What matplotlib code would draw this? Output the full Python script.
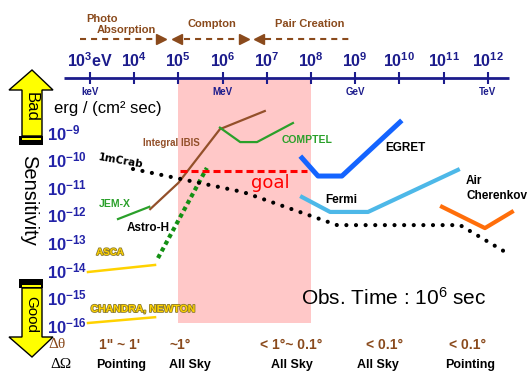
import matplotlib
matplotlib.use('Agg')
import matplotlib.pyplot as plt
from matplotlib.patches import Polygon, Rectangle
import matplotlib.patheffects as pe

plt.rcParams['font.family'] = ['Liberation Sans', 'DejaVu Sans']

# decades on the energy axis (eV) and on the sensitivity axis (erg / cm^2 / s)
energy_exp = [3, 4, 5, 6, 7, 8, 9, 10, 11, 12]
energy_units = {3: 'keV', 6: 'MeV', 9: 'GeV', 12: 'TeV'}
flux_exp = [-9, -10, -11, -12, -13, -14, -15, -16]

# sensitivity curves: energy (eV) / sensitivity (erg cm^-2 s^-1)
ibis_e = [2.3e4, 1.0e5, 8.7e5, 9.0e6]
ibis_s = [1.9e-12, 1.7e-11, 1.5e-9, 6.8e-9]

comptel_e = [8.7e5, 2.5e6, 6.0e6, 3.9e7]
comptel_s = [1.7e-9, 5.1e-10, 5.1e-10, 2.5e-9]

egret_e = [6.25e7, 1.44e8, 5.0e8, 1.03e10]
egret_s = [1.35e-10, 3.0e-11, 3.0e-11, 2.7e-9]

fermi_e = [6.25e7, 2.7e8, 1.95e9, 2.1e11]
fermi_s = [5.2e-12, 1.5e-12, 1.5e-12, 5.0e-11]

cherenkov_e = [9.2e10, 8.6e11, 3.5e12]
cherenkov_s = [2.3e-12, 3.9e-13, 1.5e-12]

crab_e = [9.4e3, 2.9e6, 3.9e8, 2.35e11, 2.7e12]
crab_s = [5.4e-11, 7.9e-12, 5.0e-13, 5.0e-13, 4.9e-14]

jemx_e = [4.3e3, 2.2e4]
jemx_s = [8.3e-13, 2.3e-12]

astroh_e = [3.45e4, 4.4e5]
astroh_s = [3.2e-14, 5.9e-11]

asca_e = [9.0e2, 2.96e4]
asca_s = [1.0e-14, 1.8e-14]

chandra_e = [9.0e2, 2.96e4]
chandra_s = [1.42e-16, 2.3e-16]

goal_e = [1.09e5, 8.1e7]
goal_s = [4.6e-11, 4.6e-11]

# wide-field band
band_e = [1e5, 1e8]

# angular resolution / field of view rows
res_labels = ['1" ~ 1\'', '~1°', '< 1°~ 0.1°', '< 0.1°', '< 0.1°']
res_x = [120, 180, 291, 385, 468]
fov_labels = ['Pointing', 'All Sky', 'All Sky', 'All Sky', 'Pointing']
fov_x = [121, 190, 292, 378, 470]

navy = '#1c1c8c'
ylab_blue = '#2323a8'
brown = '#8a4a1c'

W, H = 531, 372


def pos(x, y):
    # pixel position -> axes fraction (axes fill the figure)
    return x / W, 1 - y / H


fig = plt.figure(figsize=(W / 100, H / 100), dpi=100)
ax = fig.add_axes([0, 0, 1, 1])
ax.set_xscale('log')
ax.set_yscale('log')
ax.set_xlim(10 ** 0.9638, 10 ** 12.977)
ax.set_ylim(10 ** -17.623, 10 ** -4.145)
ax.axis('off')

xt = ax.get_xaxis_transform()
yt = ax.get_yaxis_transform()

# shaded band
ax.axvspan(band_e[0], band_e[1], ymin=pos(0, 323)[1], ymax=pos(0, 78)[1],
           color='#ffc8c8', lw=0, zorder=0)

# energy axis along the top
ax.plot([pos(64, 0)[0], pos(509, 0)[0]], [pos(0, 78)[1]] * 2,
        color=navy, lw=2, transform=ax.transAxes, solid_capstyle='butt')
ax.vlines([10.0 ** k for k in energy_exp], pos(0, 84)[1], pos(0, 72)[1],
          transform=xt, color=navy, lw=1.5)
for k in energy_exp:
    label = r'$\mathregular{10^{%d}}$' % k
    if k == 3:
        label += 'eV'
    ax.text(10.0 ** k, pos(0, 61)[1], label, transform=xt, ha='center',
            va='center', fontsize=11.5, fontweight='bold', color=navy)
    if k in energy_units:
        ax.text(10.0 ** k, pos(0, 92)[1], energy_units[k], transform=xt,
                ha='center', va='center', fontsize=7, fontweight='bold',
                color=navy)

# interaction regimes
proc = dict(transform=ax.transAxes, ha='center', va='center', fontsize=8,
            fontweight='bold', color=brown)
ax.text(*pos(102, 19), 'Photo', **proc)
ax.text(*pos(126, 30), 'Absorption', **proc)
ax.text(*pos(212, 24), 'Compton', **proc)
ax.text(*pos(310, 24), 'Pair Creation', **proc)
dash = dict(color=brown, lw=1.5, linestyle=(0, (2.9, 2.4)),
            transform=ax.transAxes)
arrow_y = pos(0, 39)[1]
for x0, x1 in [(80, 157), (184, 238), (265, 353)]:
    ax.plot([pos(x0, 0)[0], pos(x1, 0)[0]], [arrow_y] * 2, **dash)
for x, m in [(161, '>'), (177, '<'), (244, '>'), (259, '<')]:
    ax.plot(pos(x, 0)[0], arrow_y, marker=m, ms=7, color=brown, mec=brown,
            transform=ax.transAxes)

# sensitivity labels on the left
for k in flux_exp:
    ax.annotate(r'$\mathregular{10^{%d}}$' % k, xy=(pos(47, 0)[0], 10.0 ** k),
                xycoords=yt, xytext=(0, -4.3), textcoords='offset points',
                ha='left', va='baseline', fontsize=12, fontweight='bold',
                color=ylab_blue)
ax.text(*pos(108, 109), 'erg / (cm² sec)', transform=ax.transAxes,
        ha='center', va='center', fontsize=12, color='black')
ax.text(*pos(29, 200), 'Sensitivity', transform=ax.transAxes, rotation=-90,
        ha='center', va='center', fontsize=14.5, color='black')

# Bad / Good arrows
bad = [(32, 70), (53, 90), (42, 90), (42, 136), (22, 136), (22, 90), (9, 90)]
good = [(22, 288), (42, 288), (42, 337), (53, 337), (32, 357), (9, 337),
        (22, 337)]
for verts in (bad, good):
    ax.add_patch(Polygon([pos(x, y) for x, y in verts], closed=True,
                         transform=ax.transAxes, fc='#ffff00', ec='black',
                         lw=1, clip_on=False))
for y0, y1, s0, s1 in [(136, 145, 137.5, 140), (279, 288, 285, 287)]:
    x0, yb = pos(19, y1)
    ax.add_patch(Rectangle((x0, yb), 24 / W, (y1 - y0) / H,
                           transform=ax.transAxes, fc='black', ec='none'))
    x0, yb = pos(22, s1)
    ax.add_patch(Rectangle((x0, yb), 19 / W, (s1 - s0) / H,
                           transform=ax.transAxes, fc='#ffff00', ec='none'))
ax.text(*pos(31, 107), 'Bad', transform=ax.transAxes, rotation=-90,
        ha='center', va='center', fontsize=12)
ax.text(*pos(31, 315), 'Good', transform=ax.transAxes, rotation=-90,
        ha='center', va='center', fontsize=11)

# instrument curves
ax.plot(ibis_e, ibis_s, color='#93502a', lw=1.6)
ax.plot(comptel_e, comptel_s, color='#2aa02a', lw=1.6)
ax.plot(jemx_e, jemx_s, color='#2aa02a', lw=1.6)
ax.plot(asca_e, asca_s, color='#ffd200', lw=1.8)
ax.plot(chandra_e, chandra_s, color='#ffd200', lw=1.8)
ax.plot(egret_e, egret_s, color='#1464ff', lw=3.6)
ax.plot(fermi_e, fermi_s, color='#4db8e8', lw=3)
ax.plot(cherenkov_e, cherenkov_s, color='#ff6e0a', lw=3)
ax.plot(astroh_e, astroh_s, color='#139013', lw=3,
        linestyle=(0, (1, 0.85)), dash_capstyle='butt')
ax.plot(crab_e, crab_s, color='black', lw=3,
        linestyle=(0, (0.01, 2.3)), dash_capstyle='round')
ax.plot(goal_e, goal_s, color='#ff0000', lw=2.2,
        linestyle=(0, (2.3, 1.3)), dash_capstyle='butt')

# curve labels
lab = dict(transform=ax.transAxes, ha='center', va='center',
           fontweight='bold')
ax.text(*pos(171, 143), 'Integral IBIS', color='#93502a', fontsize=7, **lab)
ax.text(*pos(307, 140), 'COMPTEL', color='#2aa02a', fontsize=7.5, **lab)
ax.text(*pos(405, 148), 'EGRET', color='black', fontsize=8.5, **lab)
ax.text(*pos(341, 200), 'Fermi', color='black', fontsize=8.5, **lab)
ax.text(*pos(115, 204), 'JEM-X', color='#2aa02a', fontsize=7.5, **lab)
ax.text(*pos(148, 228), 'Astro-H', color='black', fontsize=8.5, **lab)
ax.text(*pos(466, 181), 'Air', transform=ax.transAxes, ha='left',
        va='center', fontsize=8.5, fontweight='bold')
ax.text(*pos(466, 196), 'Cherenkov', transform=ax.transAxes, ha='left',
        va='center', fontsize=8.5, fontweight='bold')
ax.text(*pos(121, 161), '1mCrab', transform=ax.transAxes, ha='center',
        va='center', rotation=-10, fontsize=7.5, fontweight='bold',
        family='DejaVu Sans')
outline = [pe.withStroke(linewidth=1.2, foreground='#8a7a30')]
ax.text(*pos(110, 252), 'ASCA', color='#ffd200', fontsize=7,
        path_effects=outline, **lab)
ax.text(*pos(143, 309), 'CHANDRA, NEWTON', color='#ffd200', fontsize=7.5,
        path_effects=outline, **lab)
ax.text(*pos(270, 183), 'goal', transform=ax.transAxes, ha='center',
        va='center', fontsize=13, color='#ff0000', family='DejaVu Sans')

ax.text(*pos(394, 298), r'Obs. Time : $\mathregular{10^{6}}$ sec',
        transform=ax.transAxes, ha='center', va='center', fontsize=15)

# resolution / field of view rows
ax.text(*pos(57, 345), 'Δθ', transform=ax.transAxes, ha='center',
        va='center', fontsize=11, color=brown, family='Liberation Serif')
ax.text(*pos(61, 365), 'ΔΩ', transform=ax.transAxes, ha='center',
        va='center', fontsize=11, color='black', family='Liberation Serif')
for text, x in zip(res_labels, res_x):
    ax.text(*pos(x, 345), text, transform=ax.transAxes, ha='center',
            va='center', fontsize=10, fontweight='bold', color=brown)
for text, x in zip(fov_labels, fov_x):
    ax.text(*pos(x, 365), text, transform=ax.transAxes, ha='center',
            va='center', fontsize=9, fontweight='bold', color='black')

fig.savefig('out.png', dpi=100)
